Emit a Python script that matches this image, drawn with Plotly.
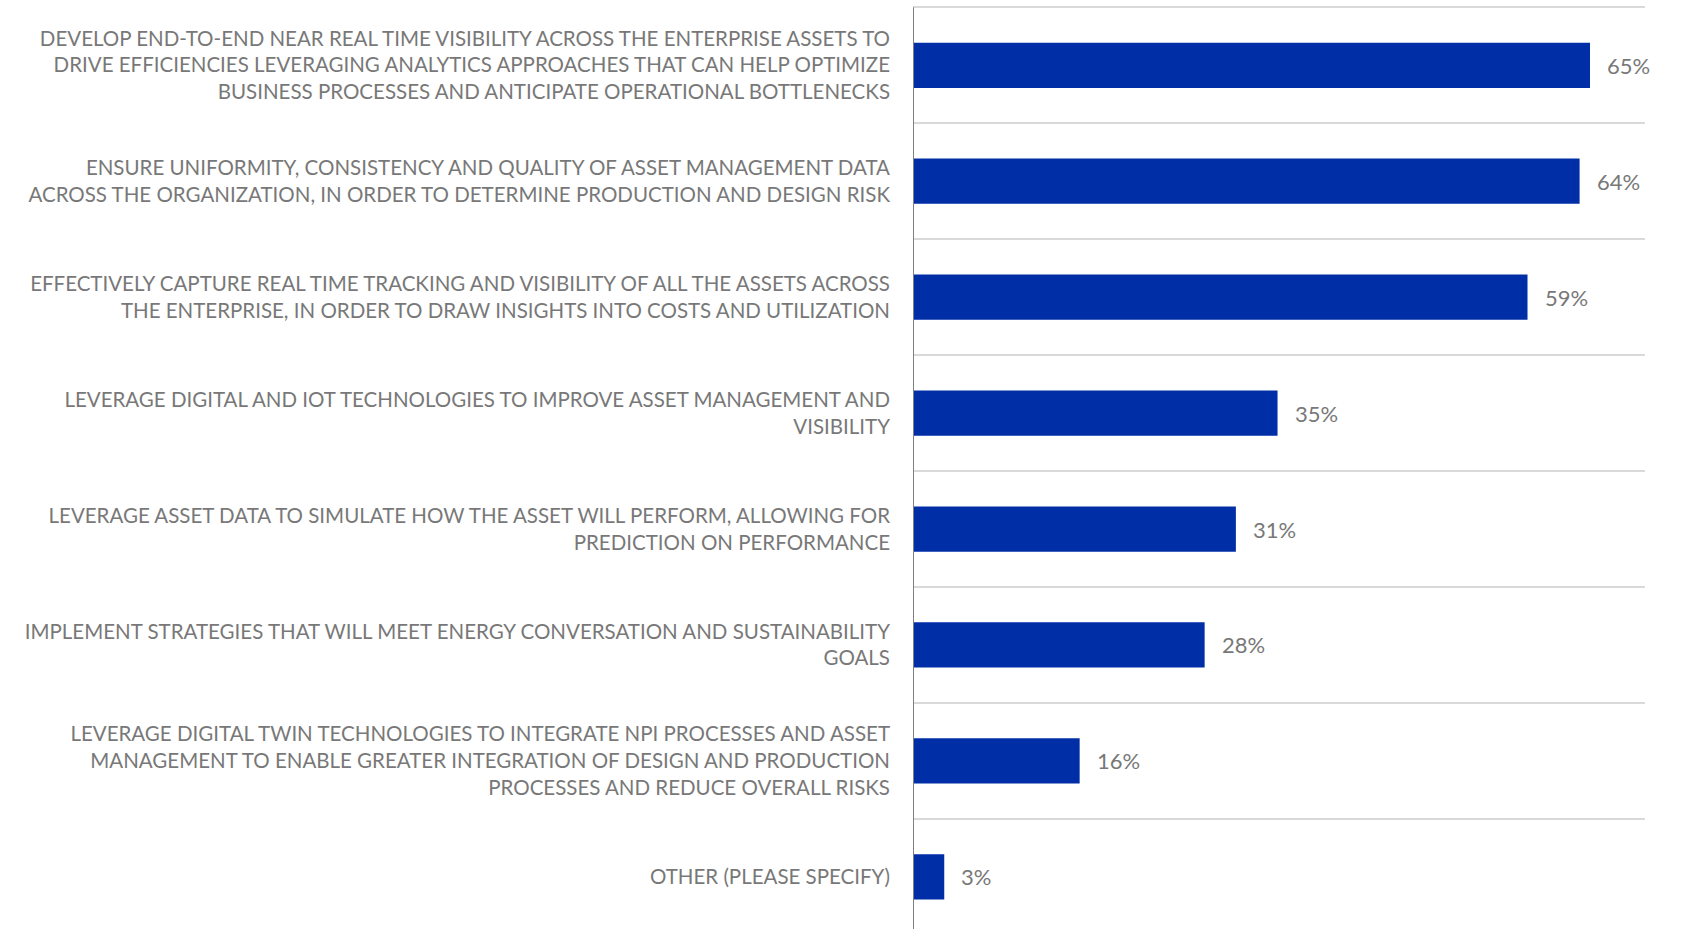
import plotly.graph_objects as go

# Survey answers, listed bottom-to-top so the first item sits at the base of the axis
categories = [
    "OTHER (PLEASE SPECIFY)",
    "LEVERAGE DIGITAL TWIN TECHNOLOGIES TO INTEGRATE NPI PROCESSES AND ASSET<br>"
    "MANAGEMENT TO ENABLE GREATER INTEGRATION OF DESIGN AND PRODUCTION<br>"
    "PROCESSES AND REDUCE OVERALL RISKS",
    "IMPLEMENT STRATEGIES THAT WILL MEET ENERGY CONVERSATION AND SUSTAINABILITY<br>GOALS",
    "LEVERAGE ASSET DATA TO SIMULATE HOW THE ASSET WILL PERFORM, ALLOWING FOR<br>"
    "PREDICTION ON PERFORMANCE",
    "LEVERAGE DIGITAL AND IOT TECHNOLOGIES TO IMPROVE ASSET MANAGEMENT AND<br>VISIBILITY",
    "EFFECTIVELY CAPTURE REAL TIME TRACKING AND VISIBILITY OF ALL THE ASSETS ACROSS<br>"
    "THE ENTERPRISE, IN ORDER TO DRAW INSIGHTS INTO COSTS AND UTILIZATION",
    "ENSURE UNIFORMITY, CONSISTENCY AND QUALITY OF ASSET MANAGEMENT DATA<br>"
    "ACROSS THE ORGANIZATION, IN ORDER TO DETERMINE PRODUCTION AND DESIGN RISK",
    "DEVELOP END-TO-END NEAR REAL TIME VISIBILITY ACROSS THE ENTERPRISE ASSETS TO<br>"
    "DRIVE EFFICIENCIES LEVERAGING ANALYTICS APPROACHES THAT CAN HELP OPTIMIZE<br>"
    "BUSINESS PROCESSES AND ANTICIPATE OPERATIONAL BOTTLENECKS",
]
percent = [3, 16, 28, 31, 35, 59, 64, 65]

FONT = "Lato, Roboto, sans-serif"
GREY = "#787878"
BLUE = "#002ea6"

fig = go.Figure(
    go.Bar(
        x=percent,
        y=categories,
        orientation="h",
        marker=dict(color=BLUE, line=dict(width=0)),
        hoverinfo="skip",
    )
)

# Percentage labels just past the end of each bar
for cat, val in zip(categories, percent):
    fig.add_annotation(
        x=val, y=cat, text=f"{val}%", showarrow=False,
        xanchor="left", yanchor="middle", xshift=15,
        font=dict(family=FONT, size=22, color=GREY),
    )

fig.update_layout(
    width=1683,
    height=929,
    margin=dict(l=913, r=38, t=5, b=0, pad=0, autoexpand=False),
    paper_bgcolor="white",
    plot_bgcolor="white",
    showlegend=False,
    bargap=0.61,
    font=dict(family=FONT, size=20.5, color=GREY),
    xaxis=dict(
        range=[0, 70.28],
        showgrid=False,
        zeroline=False,
        showticklabels=False,
        ticks="",
        automargin=False,
        fixedrange=True,
    ),
    yaxis=dict(
        type="category",
        categoryorder="array",
        categoryarray=categories,
        range=[-0.45, 7.52],
        tickson="boundaries",
        showgrid=True,
        gridcolor="#d9d9d9",
        gridwidth=2,
        showline=False,
        ticks="",
        ticklabelstandoff=22,
        automargin=False,
        tickfont=dict(family=FONT, size=20.5, color=GREY),
        fixedrange=True,
    ),
)

# Vertical baseline at 0 %, running from the top boundary to the bottom edge
fig.add_shape(
    type="line", xref="x", yref="y", x0=0, x1=0, y0=7.5, y1=-0.45,
    line=dict(color="#808080", width=2), layer="above",
)

fig.write_html("out.html")
